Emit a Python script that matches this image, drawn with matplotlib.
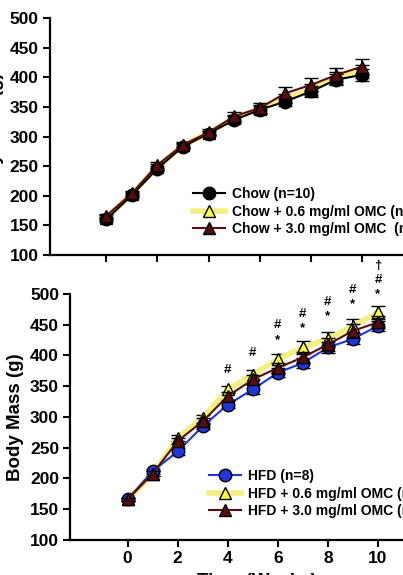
import numpy as np
import matplotlib
matplotlib.use("Agg")
import matplotlib.pyplot as plt
from matplotlib.lines import Line2D

plt.rcParams['font.family'] = ['Liberation Sans', 'DejaVu Sans']
plt.rcParams['font.weight'] = 'bold'

# Datos (semanas 0-10)
semanas = np.arange(0, 11)

chow = [160, 201, 246, 283, 305, 328, 345, 359, 376, 396, 404]
chow_06 = [163, 203, 249, 285, 306, 331, 347, 364, 379, 399, 410]
chow_30 = [166, 204, 252, 286, 307, 334, 348, 373, 387, 404, 418]
chow_sem = [4, 4, 5, 4, 4, 6, 7, 8, 9, 9, 10]
chow_06_sem = [4, 4, 5, 4, 4, 6, 7, 8, 9, 10, 11]
chow_30_sem = [4, 4, 5, 4, 5, 7, 8, 10, 11, 12, 13]

hfd = [166, 212, 244, 285, 320, 345, 372, 388, 413, 427, 448]
hfd_06 = [166, 208, 266, 299, 345, 369, 394, 413, 427, 448, 470]
hfd_30 = [166, 208, 261, 293, 334, 361, 380, 397, 418, 440, 454]
hfd_sem = [3, 4, 6, 5, 6, 7, 7, 8, 9, 9, 8]
hfd_06_sem = [3, 4, 5, 5, 6, 8, 9, 10, 11, 12, 11]
hfd_30_sem = [3, 4, 5, 5, 6, 7, 8, 9, 10, 11, 10]

# Marcas de significancia (semana, simbolo, altura)
marcas = [
    (4, '#', 377), (5, '#', 404),
    (6, '#', 449), (6, '*', 425),
    (7, '#', 468), (7, '*', 445),
    (8, '#', 487), (8, '*', 464),
    (9, '#', 506), (9, '*', 483),
    (10, '\u2020', 545), (10, '#', 523), (10, '*', 500),
]

AMARILLO = '#f5ee80'
GRANATE = '#5a0c0c'
AZUL = '#1f36d8'

fig = plt.figure(figsize=(4.03, 5.75), dpi=100)
ax1 = fig.add_axes([0.124, 0.5565, 0.876, 0.4122])
ax2 = fig.add_axes([0.174, 0.0609, 0.826, 0.4278])


def serie(ax, y, sem, marker, mfc, lc, lw, z):
    ax.errorbar(semanas, y, yerr=sem, color=lc, lw=lw, marker=marker,
                markersize=9, markerfacecolor=mfc, markeredgecolor='black',
                markeredgewidth=1.0, ecolor='black', elinewidth=1.4,
                capsize=5, capthick=1.4, zorder=z)
    return Line2D([], [], color=lc, lw=lw, marker=marker, markersize=9,
                  markerfacecolor=mfc, markeredgecolor='black', markeredgewidth=1.0)


h06 = serie(ax1, chow_06, chow_06_sem, '^', '#ffff40', AMARILLO, 4, 2)
h00 = serie(ax1, chow, chow_sem, 'o', 'black', 'black', 1.5, 3)
h30 = serie(ax1, chow_30, chow_30_sem, '^', GRANATE, GRANATE, 1.5, 4)
ax1.legend([h00, h06, h30],
           ['Chow (n=10)', 'Chow + 0.6 mg/ml OMC (n=10)', 'Chow + 3.0 mg/ml OMC  (n=10)'],
           frameon=False, fontsize=10, handlelength=2.3, labelspacing=0.25,
           handletextpad=0.5, borderaxespad=0,
           loc='upper left', bbox_to_anchor=(0.39, 0.31))

g06 = serie(ax2, hfd_06, hfd_06_sem, '^', '#ffff40', AMARILLO, 4, 2)
g00 = serie(ax2, hfd, hfd_sem, 'o', AZUL, AZUL, 1.5, 3)
g30 = serie(ax2, hfd_30, hfd_30_sem, '^', GRANATE, GRANATE, 1.5, 4)
ax2.legend([g00, g06, g30],
           ['HFD (n=8)', 'HFD + 0.6 mg/ml OMC (n=8)', 'HFD + 3.0 mg/ml OMC (n=8)'],
           frameon=False, fontsize=10, handlelength=2.3, labelspacing=0.25,
           handletextpad=0.5, borderaxespad=0,
           loc='upper left', bbox_to_anchor=(0.40, 0.31))

for sem_x, simbolo, altura in marcas:
    ax2.text(sem_x, altura, simbolo, ha='center', va='center', fontsize=9.5,
             fontweight='bold', clip_on=False)

for ax, xlim in ((ax1, (-2.2, 11.6)), (ax2, (-2.3, 11.0))):
    ax.set_xlim(*xlim)
    ax.set_ylim(100, 500)
    ax.set_yticks(range(100, 501, 50))
    ax.set_xticks(range(0, 11, 2))
    ax.spines['top'].set_visible(False)
    ax.spines['right'].set_visible(False)
    ax.spines['left'].set_linewidth(1.6)
    ax.spines['bottom'].set_linewidth(1.6)
    ax.tick_params(direction='out', length=5, width=1.5, labelsize=12.5, pad=3)
    ax.set_ylabel('Body Mass (g)', fontsize=13.5, fontweight='bold', labelpad=4)

ax1.set_xticklabels([])
ax2.set_xlabel('Time (Weeks)', fontsize=13.5, fontweight='bold')
ax2.xaxis.set_label_coords(0.56, -0.135)

fig.savefig('out.png', dpi=100)
